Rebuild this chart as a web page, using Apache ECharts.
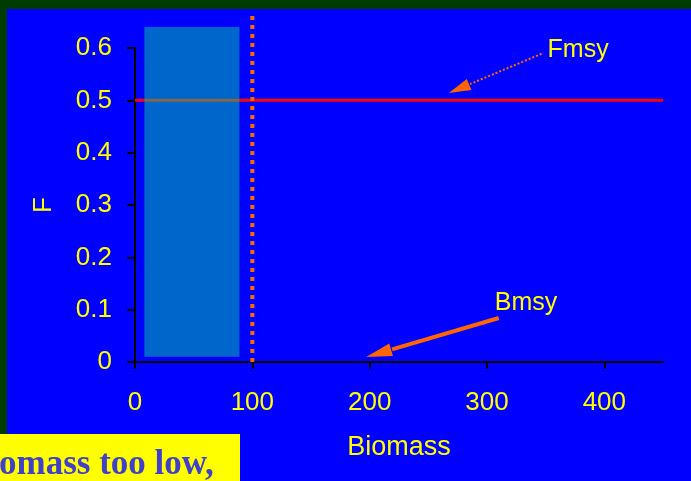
<!DOCTYPE html>
<html>
<head>
<meta charset="utf-8">
<script src="https://cdn.jsdelivr.net/npm/echarts@6/dist/echarts.min.js"></script>
<style>
  html, body { margin: 0; padding: 0; background: #0000ff; }
  #chart { width: 691px; height: 481px; }
</style>
</head>
<body>
<div id="chart"></div>
<script>
// Axis ranges and tick values
const xRange = [0, 450];
const yRange = [0, 0.6];
const xTicks = [0, 100, 200, 300, 400];
const yTicks = [0, 0.1, 0.2, 0.3, 0.4, 0.5, 0.6];

// Reference points: F = Fmsy across all biomass, B = Bmsy vertical marker
const fmsyLine = [[0, 0.5], [450, 0.5]];
const bmsyLine = [[100, 0], [100, 0.667]];

// Low-biomass band: [biomass from, F from, biomass to, F to]
const lowBand = [[8, 0.01, 89, 0.64]];

// Annotation arrows: [biomass from, F from, biomass to, F to]
const arrows = [
  [346.5, 0.589, 267.5, 0.514],
  [310, 0.084, 197, 0.0096]
];
// Annotation texts: [text, biomass, F]
const notes = [
  ['Fmsy', 351.6, 0.596],
  ['Bmsy', 306.6, 0.113]
];

const FONT = "'Liberation Sans', Arial, sans-serif";
const YELLOW = '#ffff00';
const ORANGE = '#ff6600';
const arrowLook = [
  { width: 2, dash: [2, 2], head: 22, half: 6 },
  { width: 4, dash: null, head: 26, half: 6.5 }
];

const chart = echarts.init(document.getElementById('chart'), null, { renderer: 'canvas' });

chart.setOption({
  backgroundColor: '#0000ff',
  animation: false,
  grid: { left: 135, right: 28, top: 48, bottom: 119 },
  xAxis: {
    type: 'value',
    min: xRange[0], max: xRange[1], interval: 100,
    name: 'Biomass', nameLocation: 'middle', nameGap: 72,
    nameTextStyle: { color: YELLOW, fontSize: 27, fontFamily: FONT },
    axisLine: { show: true, onZero: false, lineStyle: { color: '#000', width: 2 } },
    axisTick: { show: true, length: 7, customValues: xTicks, lineStyle: { color: '#000', width: 2 } },
    axisLabel: { customValues: xTicks, color: YELLOW, fontSize: 26, fontFamily: FONT, margin: 28 },
    splitLine: { show: false }
  },
  yAxis: {
    type: 'value',
    min: yRange[0], max: yRange[1], interval: 0.1,
    name: 'F', nameLocation: 'middle', nameGap: 78,
    nameTextStyle: { color: YELLOW, fontSize: 26, fontFamily: FONT },
    axisLine: { show: true, lineStyle: { color: '#000', width: 2 } },
    axisTick: { show: true, length: 8, customValues: yTicks, lineStyle: { color: '#000', width: 2 } },
    axisLabel: {
      customValues: yTicks, color: YELLOW, fontSize: 26, fontFamily: FONT, margin: 23,
      formatter: v => (v === 0 ? '0' : v.toFixed(1))
    },
    splitLine: { show: false }
  },
  series: [
    {
      name: 'Fmsy', type: 'line', data: fmsyLine, symbol: 'none', z: 2, silent: true,
      lineStyle: { color: '#ff0000', width: 3 }
    },
    {
      name: 'Low biomass', type: 'custom', data: lowBand, clip: false, z: 3, silent: true,
      renderItem: (params, api) => {
        const a = api.coord([api.value(0), api.value(3)]);
        const b = api.coord([api.value(2), api.value(1)]);
        return {
          type: 'rect',
          shape: { x: a[0], y: a[1], width: b[0] - a[0], height: b[1] - a[1] },
          style: { fill: 'rgba(0,204,153,0.5)' }
        };
      }
    },
    {
      name: 'Bmsy', type: 'line', data: bmsyLine, symbol: 'none', clip: false, z: 4, silent: true,
      lineStyle: { color: ORANGE, width: 4, type: [4, 5] }
    },
    {
      name: 'Arrows', type: 'custom', data: arrows, clip: false, z: 5, silent: true,
      renderItem: (params, api) => {
        const look = arrowLook[params.dataIndex];
        const p1 = api.coord([api.value(0), api.value(1)]);
        const p2 = api.coord([api.value(2), api.value(3)]);
        const dx = p1[0] - p2[0], dy = p1[1] - p2[1];
        const len = Math.hypot(dx, dy);
        const ux = dx / len, uy = dy / len;
        const nx = -uy, ny = ux;
        const bx = p2[0] + ux * look.head, by = p2[1] + uy * look.head;
        return {
          type: 'group',
          children: [
            {
              type: 'line',
              shape: { x1: p1[0], y1: p1[1], x2: bx + ux * 1, y2: by + uy * 1 },
              style: { stroke: ORANGE, lineWidth: look.width, lineDash: look.dash }
            },
            {
              type: 'polygon',
              shape: { points: [[p2[0], p2[1]], [bx + nx * look.half, by + ny * look.half], [bx - nx * look.half, by - ny * look.half]] },
              style: { fill: ORANGE }
            }
          ]
        };
      }
    },
    {
      name: 'Notes', type: 'custom', data: notes.map(n => [n[1], n[2], n[0]]), clip: false, z: 6, silent: true,
      renderItem: (params, api) => {
        const p = api.coord([api.value(0), api.value(1)]);
        return {
          type: 'text', x: p[0], y: p[1],
          style: {
            text: notes[params.dataIndex][0], fill: YELLOW,
            font: '25px ' + FONT, align: 'left', verticalAlign: 'middle'
          }
        };
      }
    }
  ],
  graphic: [
    { type: 'rect', z: 100, shape: { x: 0, y: 0, width: 691, height: 9 }, style: { fill: '#003c00' } },
    { type: 'rect', z: 100, shape: { x: 0, y: 0, width: 7, height: 434 }, style: { fill: '#003c00' } },
    { type: 'rect', z: 100, shape: { x: 0, y: 434, width: 240, height: 47 }, style: { fill: YELLOW } },
    {
      type: 'text', z: 101, x: -1, y: 465,
      style: {
        text: 'omass too low,', fill: '#4040c8',
        font: "bold 35px 'Liberation Serif', 'Times New Roman', serif",
        align: 'left', verticalAlign: 'middle'
      }
    }
  ]
});
</script>
</body>
</html>
